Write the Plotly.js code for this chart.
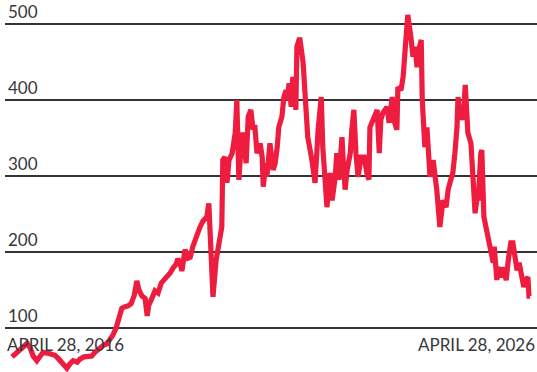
<!DOCTYPE html>
<html>
<head>
<meta charset="utf-8">
<script src="https://cdn.plot.ly/plotly-3.0.1.min.js"></script>
<style>html,body{margin:0;padding:0;background:#fff;}#chart{width:537px;height:372px;}</style>
</head>
<body>
<div id="chart"></div>
<script>
// Time in decimal years (2016-04-28 = 2016.32 ... 2026-04-28 = 2026.32)
const years = [2016.32,2016.40,2016.47,2016.55,2016.61,2016.67,2016.73,2016.80,2016.86,2016.92,2017.00,2017.07,2017.15,2017.21,2017.27,2017.32,2017.38,2017.44,2017.50,2017.58,2017.63,2017.71,2017.79,2017.86,2017.92,2017.98,2018.04,2018.10,2018.15,2018.21,2018.27,2018.33,2018.37,2018.41,2018.44,2018.50,2018.56,2018.62,2018.68,2018.73,2018.77,2018.83,2018.89,2018.93,2018.96,2019.02,2019.08,2019.14,2019.20,2019.25,2019.31,2019.37,2019.43,2019.49,2019.52,2019.56,2019.60,2019.66,2019.72,2019.76,2019.81,2019.89,2019.95,2020.01,2020.08,2020.12,2020.16,2020.20,2020.26,2020.30,2020.37,2020.39,2020.43,2020.47,2020.51,2020.57,2020.59,2020.63,2020.66,2020.70,2020.76,2020.78,2020.84,2020.88,2020.93,2020.97,2021.01,2021.05,2021.11,2021.15,2021.17,2021.22,2021.24,2021.30,2021.36,2021.40,2021.44,2021.47,2021.53,2021.57,2021.61,2021.63,2021.67,2021.71,2021.74,2021.78,2021.80,2021.82,2021.86,2021.88,2021.94,2021.98,2022.03,2022.11,2022.17,2022.23,2022.29,2022.32,2022.38,2022.40,2022.46,2022.50,2022.56,2022.59,2022.63,2022.69,2022.71,2022.75,2022.79,2022.85,2022.88,2022.92,2022.96,2023.00,2023.06,2023.12,2023.17,2023.21,2023.23,2023.29,2023.33,2023.37,2023.41,2023.44,2023.48,2023.56,2023.60,2023.66,2023.69,2023.75,2023.77,2023.83,2023.87,2023.91,2023.95,2023.96,2024.02,2024.06,2024.10,2024.14,2024.16,2024.22,2024.24,2024.25,2024.29,2024.33,2024.35,2024.39,2024.45,2024.49,2024.52,2024.58,2024.64,2024.70,2024.74,2024.79,2024.83,2024.87,2024.91,2024.93,2024.97,2025.01,2025.03,2025.07,2025.10,2025.12,2025.18,2025.22,2025.26,2025.30,2025.32,2025.37,2025.39,2025.43,2025.47,2025.51,2025.57,2025.61,2025.63,2025.68,2025.70,2025.74,2025.78,2025.80,2025.86,2025.90,2025.95,2025.99,2026.03,2026.07,2026.11,2026.17,2026.20,2026.24,2026.28,2026.30,2026.32];
const values = [62,68,71,76,80,74,63,57,63,68,67,66,64,60,55,50,47,53,57,55,59,62,62,63,68,72,75,78,79,84,91,100,108,116,126,128,129,132,143,162,150,142,139,116,130,139,149,146,159,163,167,172,179,184,191,187,175,203,192,193,207,225,233,241,246,264,216,141,189,207,233,321,325,291,321,330,343,357,400,295,357,351,317,378,387,364,364,330,343,325,286,317,299,343,308,317,338,364,378,404,413,400,422,391,430,422,387,470,479,479,449,396,351,321,291,361,404,338,291,259,304,268,299,330,295,351,325,282,308,330,361,387,330,299,325,325,304,295,364,374,383,387,330,374,383,391,370,404,374,361,417,413,430,462,499,512,483,457,470,443,462,479,400,378,338,364,347,299,321,299,282,233,268,259,282,295,304,330,364,404,374,383,374,420,374,357,343,299,251,272,268,330,334,246,233,225,207,186,207,163,180,172,167,180,163,189,212,212,189,176,186,163,154,163,167,142,142];
const yTicks = [100,200,300,400,500];
const yTickText = ["100","200","300","400","500"];
const dateLabels = ["APRIL 28, 2016","APRIL 28, 2026"];

const labelFont = {family:"Lato, 'Open Sans', sans-serif", size:17, color:"#383838"};

const data = [{
  x: years, y: values, type:"scatter", mode:"lines",
  line:{color:"#EE1C3F", width:5.2, shape:"linear"},
  hoverinfo:"skip"
}];

const layout = {
  width:537, height:372,
  margin:{l:5, r:0, t:0, b:0, pad:0},
  paper_bgcolor:"#ffffff", plot_bgcolor:"#ffffff",
  showlegend:false,
  xaxis:{range:[2016.185, 2026.455], showgrid:false, zeroline:false, showticklabels:false, ticks:"", showline:false, fixedrange:true},
  yaxis:{range:[42.1, 531.6], tickvals:yTicks, ticktext:yTickText, showgrid:true, gridcolor:"#333333", gridwidth:1.4,
         zeroline:false, showline:false, ticks:"", ticklabelposition:"inside top", tickfont:labelFont, fixedrange:true},
  annotations:[
    {xref:"paper", yref:"paper", x:0, y:0.075, xanchor:"left", yanchor:"middle", text:dateLabels[0], showarrow:false, font:labelFont},
    {xref:"paper", yref:"paper", x:1, y:0.075, xanchor:"right", yanchor:"middle", text:dateLabels[1], showarrow:false, font:labelFont}
  ]
};

Plotly.newPlot("chart", data, layout, {displayModeBar:false, staticPlot:true});
</script>
</body>
</html>
